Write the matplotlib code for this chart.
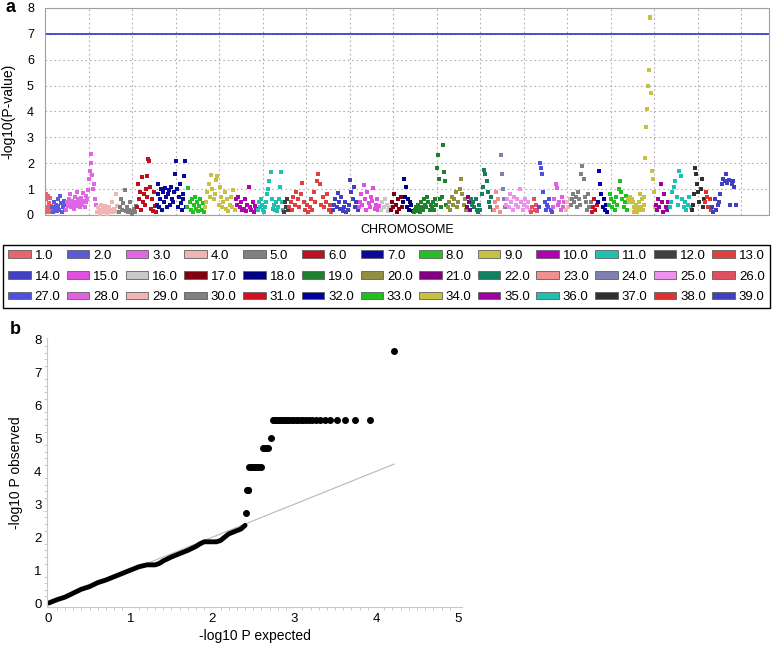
import matplotlib
matplotlib.use("Agg")
import matplotlib.pyplot as plt
from matplotlib.patches import Patch
import numpy as np

plt.rcParams['font.family'] = ['Liberation Sans', 'DejaVu Sans']

# chromosome boundaries along the x axis (Mb-like units, grid every 150)
chrom_starts = [0, 24, 72, 176, 252, 317, 383, 489, 549, 656, 731, 824, 839, 990, 1080,
                1155, 1190, 1232, 1269, 1386, 1455, 1466, 1545, 1569, 1586, 1673, 1700,
                1749, 1793, 1811, 1883, 1904, 1941, 2010, 2103, 2151, 2228, 2273, 2297]
chrom_ends = chrom_starts[1:] + [2384]

chrom_labels = ["%d.0" % i for i in range(1, 40)]
chrom_colors = ['#e8646e', '#5b5bd6', '#e066e6', '#f0b4b4', '#808080', '#c0101e', '#0a0a9a',
                '#22c022', '#c8c040', '#b000b0', '#20c0b0', '#404040', '#e04040', '#4040c0',
                '#e050e0', '#c8c8c8', '#800010', '#000080', '#208030', '#909040', '#800080',
                '#108060', '#f09090', '#8080b0', '#f090f0', '#e05060', '#5050e0', '#e060e0',
                '#f4b4b4', '#808080', '#d01020', '#0000a0', '#20c020', '#c8c040', '#a000a0',
                '#20c0b0', '#303030', '#e03030', '#4040c0']

# -log10(p) per chromosome, in position order
chrom_vals = [
    [0.15, 0.8, 0.6, 0.3, 0.2, 0.75, 0.1, 0.45, 0.25, 0.65, 0.1, 0.35, 0.2],
    [0.3, 0.1, 0.5, 0.25, 0.4, 0.15, 0.6, 0.35, 0.2, 0.75, 0.45, 0.1, 0.3, 0.55, 0.2, 0.4],
    [0.2, 0.5, 0.35, 0.6, 0.8, 0.45, 0.3, 0.55, 0.4, 0.25, 0.7, 0.5, 0.35, 0.9, 0.6, 0.45,
     0.3, 0.5, 0.65, 0.4, 0.85, 0.55, 0.3, 0.75, 0.5, 0.6, 0.95, 1.4, 1.7, 2.0, 2.35, 1.55,
     1.0, 1.2, 0.6, 0.4],
    [0.1, 0.3, 0.2, 0.05, 0.4, 0.15, 0.25, 0.1, 0.35, 0.2, 0.05, 0.15, 0.3, 0.1, 0.2, 0.5,
     0.1, 0.25, 0.15, 0.8, 0.35, 0.1],
    [0.1, 0.3, 0.6, 0.2, 0.45, 0.95, 0.15, 0.3, 0.1, 0.2, 0.5, 0.05, 0.15, 0.25, 0.1, 0.35],
    [0.3, 1.2, 0.6, 0.9, 0.2, 1.45, 0.5, 0.8, 0.4, 1.0, 0.7, 1.5, 2.15, 2.1, 1.1, 0.25,
     0.6, 0.15, 0.9, 0.35, 0.1],
    [0.4, 1.2, 0.8, 0.3, 0.6, 1.0, 0.2, 0.9, 0.5, 1.05, 0.7, 0.3, 0.8, 0.95, 0.4, 1.1,
     0.6, 0.5, 0.9, 1.6, 2.1, 1.0, 0.3, 0.7, 1.2, 0.45, 0.2, 0.8, 0.6, 1.5, 2.1, 0.3],
    [0.3, 1.05, 0.5, 0.2, 0.6, 0.1, 0.4, 0.7, 0.25, 0.5, 0.15, 0.35, 0.6, 0.2, 0.45, 0.1],
    [0.3, 0.5, 0.9, 1.2, 0.7, 1.55, 1.0, 0.6, 0.8, 1.35, 1.5, 0.4, 1.1, 0.7, 0.3, 0.5,
     0.9, 0.25, 0.6, 0.15, 0.4, 0.7, 0.3, 0.95, 0.2],
    [0.6, 0.4, 0.7, 0.3, 0.5, 0.2, 0.25, 0.6, 0.15, 0.4, 1.1, 0.3, 0.2, 0.5, 0.1, 0.35, 0.25],
    [0.2, 0.5, 0.3, 0.6, 0.4, 0.2, 0.1, 0.3, 0.5, 0.8, 1.0, 1.3, 1.65, 0.6, 0.25, 0.4,
     0.2, 0.5, 0.15, 0.3, 0.6, 1.1, 1.65, 0.5, 0.2],
    [0.1, 0.5, 0.3, 0.6, 0.2],
    [0.3, 0.5, 0.2, 0.7, 0.4, 0.9, 0.6, 0.3, 0.8, 1.25, 0.5, 0.2, 0.4, 0.1, 0.3, 0.6,
     0.2, 0.9, 0.5, 1.3, 1.6, 1.2, 0.4, 0.7, 0.3, 0.5, 0.8, 0.2, 0.4, 0.1],
    [0.2, 0.4, 0.6, 0.3, 0.85, 0.5, 0.25, 0.7, 0.15, 0.3, 0.5, 0.1, 0.2, 0.4, 1.35, 0.9,
     0.6, 1.1, 0.3, 0.5, 0.2],
    [0.3, 0.5, 0.8, 0.4, 1.15, 0.6, 0.2, 0.9, 0.45, 0.3, 0.7, 0.55, 1.05, 0.25, 0.4, 0.6, 0.2, 0.35],
    [0.2, 0.5, 0.3, 0.6, 0.4, 0.15, 0.3],
    [0.2, 0.5, 0.3, 0.8, 0.4, 0.1, 0.6, 0.25, 0.7, 0.3],
    [0.5, 1.4, 0.7, 1.1, 0.3, 0.6, 0.2, 0.5, 0.4, 0.15],
    [0.1, 0.2, 0.3, 0.15, 0.4, 0.25, 0.1, 0.5, 0.3, 0.2, 0.6, 0.4, 0.3, 0.7, 0.5, 0.2,
     0.4, 0.3, 0.5, 0.2, 0.6, 0.4, 1.8, 2.3, 1.4, 0.6, 0.3, 0.7, 2.7, 1.65, 1.3, 0.4],
    [0.3, 0.5, 0.2, 0.7, 0.4, 0.6, 0.9, 0.3, 0.5, 1.0, 1.4, 0.8, 0.4, 0.6, 0.2],
    [0.3, 0.7, 0.5, 0.2],
    [0.6, 0.4, 0.5, 0.3, 0.6, 0.2, 0.1, 0.4, 0.2, 0.8, 1.1, 1.75, 1.6, 1.3, 0.9, 0.5, 0.3, 0.7, 0.2],
    [0.2, 0.5, 0.9, 0.3, 0.6, 0.1],
    [2.3, 1.6, 1.0, 0.6, 0.3],
    [0.4, 0.6, 0.3, 0.8, 0.5, 0.2, 0.7, 0.4, 0.6, 0.3, 1.0, 0.5, 0.2, 0.4, 0.6, 0.3, 0.5, 0.2],
    [0.1, 0.3, 0.6, 0.2, 0.4, 0.15],
    [0.3, 2.0, 1.8, 1.6, 0.9, 0.5, 0.2, 0.4, 0.3, 0.6, 0.2, 0.1],
    [0.3, 0.6, 1.2, 1.05, 0.4, 0.5, 0.2, 0.7, 0.3, 0.5],
    [0.2, 0.5, 0.3, 0.6],
    [0.4, 0.6, 0.8, 0.5, 0.7, 0.3, 0.9, 0.6, 0.4, 1.6, 1.9, 1.4, 0.7, 0.5, 0.2, 0.8, 0.3, 0.5],
    [0.1, 0.3, 0.6, 0.2, 0.4],
    [0.5, 1.7, 1.2, 0.8, 0.3, 0.6, 0.2, 0.4, 0.1],
    [0.4, 0.8, 0.6, 0.3, 0.5, 0.2, 0.7, 0.4, 1.0, 1.3, 0.9, 0.6, 0.3, 0.5, 0.75, 0.2],
    [0.6, 0.5, 0.7, 0.55, 0.6, 0.5, 0.3, 0.1, 0.2, 0.4, 0.1, 0.3, 0.2, 0.5, 0.8, 0.3,
     0.6, 0.2, 0.4, 0.7, 2.2, 3.4, 4.1, 5.0, 5.6, 7.6, 7.65, 4.7, 1.7, 1.4, 0.9, 0.3],
    [0.4, 0.2, 0.6, 0.3, 1.2, 0.5, 0.1, 0.8, 0.3, 0.2, 0.5],
    [0.3, 0.5, 0.9, 1.1, 1.3, 0.7, 0.4, 1.7, 1.5, 0.6, 0.3, 0.5, 0.2, 0.4, 0.7, 0.3],
    [0.2, 0.4, 0.8, 1.8, 1.6, 1.2, 0.9, 0.5, 1.0, 1.4, 0.3, 0.6],
    [0.5, 0.9, 0.7, 0.3, 0.6, 0.2],
    [0.3, 0.1, 0.6, 0.2, 0.4, 0.5, 0.8, 1.2, 1.4, 1.3, 1.6, 1.25, 1.35, 0.4, 1.2, 1.3, 1.1, 0.4],
]

threshold = 7.0

# QQ plot: lower part of the curve (expected, observed)
qq_exp_low = [0.0, 0.05, 0.1, 0.2, 0.3, 0.4, 0.5, 0.6, 0.7, 0.8, 0.9, 1.0, 1.1, 1.15, 1.2,
              1.3, 1.35, 1.4, 1.5, 1.6, 1.7, 1.8, 1.85, 1.9, 2.0, 2.05, 2.1, 2.15, 2.2, 2.25,
              2.3, 2.35, 2.4]
qq_obs_low = [0.0, 0.05, 0.1, 0.18, 0.3, 0.42, 0.5, 0.62, 0.7, 0.8, 0.9, 1.0, 1.1, 1.13, 1.16,
              1.16, 1.2, 1.28, 1.4, 1.5, 1.6, 1.72, 1.8, 1.86, 1.86, 1.86, 1.9, 2.0, 2.1, 2.15,
              2.2, 2.25, 2.36]
# QQ plot: tail points
qq_exp_top = [2.41, 2.42, 2.43, 2.44, 2.45, 2.47, 2.49, 2.51, 2.53, 2.55, 2.57, 2.59,
              2.62, 2.64, 2.66, 2.68, 2.72,
              2.74, 2.75, 2.77, 2.79, 2.80, 2.82, 2.84, 2.86, 2.88, 2.90, 2.92, 2.94, 2.97,
              2.99, 3.02, 3.05, 3.08, 3.11, 3.14, 3.18, 3.22, 3.27, 3.32, 3.38, 3.44, 3.52,
              3.62, 3.74, 3.92, 4.22]
qq_obs_top = [2.72, 3.42, 3.42, 3.42, 4.13, 4.13, 4.13, 4.13, 4.13, 4.13, 4.13, 4.13,
              4.7, 4.7, 4.7, 4.7, 5.0,
              5.57, 5.57, 5.57, 5.57, 5.57, 5.57, 5.57, 5.57, 5.57, 5.57, 5.57, 5.57, 5.57,
              5.57, 5.57, 5.57, 5.57, 5.57, 5.57, 5.57, 5.57, 5.57, 5.57, 5.57, 5.57, 5.57,
              5.57, 5.57, 5.57, 7.65]

fig = plt.figure(figsize=(7.78, 6.5), dpi=100)

# ---- panel a: Manhattan plot
ax = fig.add_axes([45 / 778, 1 - 215 / 650, 724 / 778, 207 / 650])
for i in range(39):
    vals = chrom_vals[i]
    n = len(vals)
    span = chrom_ends[i] - chrom_starts[i]
    xs = [chrom_starts[i] + span * (k + 0.5) / n for k in range(n)]
    ax.scatter(xs, vals, s=5, marker='s', color=chrom_colors[i], linewidths=0, zorder=3)

ax.axhline(threshold, color='#2424b8', lw=1.1, zorder=2)
ax.set_xlim(0, 2496)
ax.set_ylim(0, 8)
ax.set_xticks(np.arange(150, 2496, 150))
ax.set_xticklabels([])
ax.set_yticks(range(9))
ax.tick_params(axis='x', length=0)
ax.tick_params(axis='y', length=0, labelsize=9, pad=8)
ax.grid(True, color='#b0b0b0', linestyle=(0, (1.5, 2.5)), lw=0.8)
for sp in ax.spines.values():
    sp.set_color('#a0a0a0')
ax.set_ylabel('-log10(P-value)', fontsize=10, labelpad=8)
ax.set_xlabel('CHROMOSOME', fontsize=9, labelpad=3)
fig.text(5 / 778, 1 - 8 / 650, 'a', fontsize=13, fontweight='bold', va='center')

# legend filled row by row (matplotlib fills column by column)
handles = []
for c in range(13):
    for r in range(3):
        k = r * 13 + c
        handles.append(Patch(facecolor=chrom_colors[k], edgecolor='#606060',
                             linewidth=0.6, label=chrom_labels[k]))
leg = fig.legend(handles=handles, ncol=13, loc='center', mode='expand',
                 bbox_to_anchor=(3 / 778, 1 - 310 / 650, 767 / 778, 67 / 650),
                 fontsize=9.5, handlelength=1.7, handleheight=0.5, handletextpad=0.3,
                 columnspacing=0.4, labelspacing=0.65, borderaxespad=0, fancybox=False,
                 framealpha=1, edgecolor='black')
leg.get_frame().set_linewidth(1.0)

# ---- panel b: QQ plot
bx = fig.add_axes([47 / 778, 1 - 607 / 650, 415 / 778, 269 / 650])
bx.plot([0, 4.22], [0, 4.22], color='#b8b8b8', lw=0.8, zorder=1)
bx.plot(qq_exp_low, qq_obs_low, color='black', lw=3.5, solid_capstyle='round', zorder=2)
bx.scatter(qq_exp_top, qq_obs_top, s=16, color='black', zorder=3)
bx.set_xlim(-0.02, 5.05)
bx.set_ylim(-0.12, 8.05)
bx.set_xticks(range(6))
bx.set_yticks(range(9))
bx.set_xticks(np.arange(0, 5.01, 0.1), minor=True)
bx.set_yticks(np.arange(0, 8.01, 0.2), minor=True)
bx.tick_params(which='both', color='#c0c0c0', labelsize=9.5)
bx.tick_params(which='major', length=0, pad=4)
bx.tick_params(which='minor', length=2.5)
for side in ['top', 'right']:
    bx.spines[side].set_visible(False)
for side in ['left', 'bottom']:
    bx.spines[side].set_color('#c8c8c8')
bx.set_xlabel('-log10 P expected', fontsize=10, labelpad=3)
bx.set_ylabel('-log10 P observed', fontsize=10, labelpad=8)
fig.text(10 / 778, 1 - 330 / 650, 'b', fontsize=13, fontweight='bold', va='center')

fig.savefig('out.png', dpi=100)
